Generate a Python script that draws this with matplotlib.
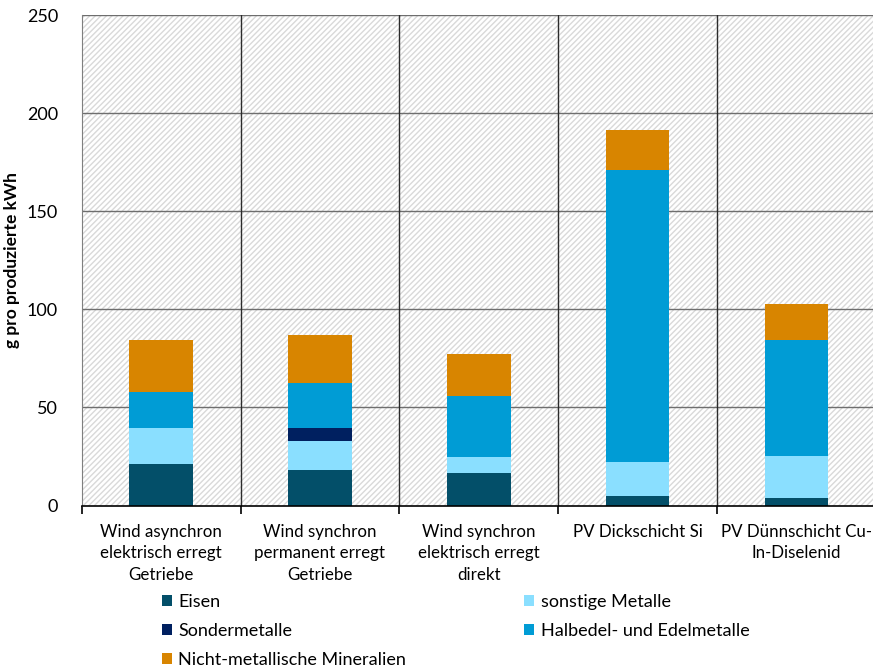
import numpy as np
import matplotlib
matplotlib.use("Agg")
import matplotlib.pyplot as plt
from matplotlib.patches import Rectangle, Patch

plt.rcParams['font.family'] = ['Lato', 'DejaVu Sans']
plt.rcParams['hatch.linewidth'] = 1.0

# Materialbedarf in g pro produzierte kWh
kategorien = ["Wind asynchron\nelektrisch erregt\nGetriebe",
              "Wind synchron\npermanent erregt\nGetriebe",
              "Wind synchron\nelektrisch erregt\ndirekt",
              "PV Dickschicht Si",
              "PV Dünnschicht Cu-\nIn-Diselenid"]

eisen = [21.0, 18.2, 16.8, 4.6, 3.9]
sonstige = [18.3, 14.5, 7.7, 17.8, 21.5]
sonder = [0.0, 6.6, 0.0, 0.0, 0.0]
halbedel = [18.7, 23.3, 31.1, 148.5, 58.9]
mineralien = [26.2, 24.1, 21.6, 20.3, 18.4]

# Reihenfolge der Stapel von unten nach oben
serien = [("Eisen", eisen, "#034f69"),
          ("sonstige Metalle", sonstige, "#8adfff"),
          ("Sondermetalle", sonder, "#002060"),
          ("Halbedel- und Edelmetalle", halbedel, "#009cd5"),
          ("Nicht-metallische Mineralien", mineralien, "#d88500")]

W, H = 873, 669
fig = plt.figure(figsize=(W / 100, H / 100), dpi=100)
links, rechts, oben, unten = 81.7, 876.0, 15.0, 505.5
ax = fig.add_axes([links / W, 1 - unten / H, (rechts - links) / W, (unten - oben) / H])

# schraffierter Hintergrund
ax.add_patch(Rectangle((0, 0), 1, 1, transform=ax.transAxes, facecolor="white",
                       edgecolor="#d9d9d9", hatch="//////", linewidth=0, zorder=0))

x = np.arange(len(kategorien))
boden = np.zeros(len(kategorien))
for name, werte, farbe in serien:
    werte = np.array(werte)
    ax.bar(x, werte, width=0.4, bottom=boden, color=farbe, zorder=3, label=name)
    boden += werte

ax.set_xlim(-0.5, len(kategorien) - 0.5)
ax.set_ylim(0, 250)
ax.set_yticks(np.arange(0, 251, 50))
for yv in np.arange(50, 251, 50):
    ax.axhline(yv, color="#6e6e6e", lw=1.0, zorder=1)
for xv in np.arange(0.5, len(kategorien) - 0.5, 1):
    ax.axvline(xv, color="#2b2b2b", lw=1.0, zorder=1)

ax.set_xticks(np.arange(-0.5, len(kategorien), 1))
ax.set_xticks(x, minor=True)
ax.set_xticklabels([])
ax.set_xticklabels(kategorien, minor=True, fontsize=12.2, linespacing=1.45)
ax.tick_params(axis='x', which='major', length=6, width=1.2, color="black", direction='out')
ax.tick_params(axis='x', which='minor', length=0, pad=13)
ax.tick_params(axis='y', length=0, pad=17, labelsize=13)

for s in ["top", "right"]:
    ax.spines[s].set_visible(False)
ax.spines["left"].set_color("#7f7f7f")
ax.spines["left"].set_linewidth(0.8)
ax.spines["bottom"].set_color("black")
ax.spines["bottom"].set_linewidth(1.2)
ax.spines["bottom"].set_zorder(5)

ax.set_ylabel("g pro produzierte kWh", fontsize=12.5, fontweight="bold")
ax.yaxis.set_label_coords((20 - links) / (rechts - links), 0.5)

# Legende in zwei Spalten unter dem Diagramm
reihenfolge = [0, 2, 4, 1, 3]
handles = [Patch(facecolor=serien[i][2]) for i in reihenfolge]
labels = [serien[i][0] for i in reihenfolge]
fig.legend(handles, labels, ncol=2, loc="upper left", bbox_to_anchor=(162 / W, 1 - 594 / H),
           frameon=False, fontsize=13, handlelength=0.55, handleheight=0.55, handletextpad=0.35,
           columnspacing=6.55, labelspacing=0.72, borderpad=0, borderaxespad=0)

fig.savefig("out.png", dpi=100)
